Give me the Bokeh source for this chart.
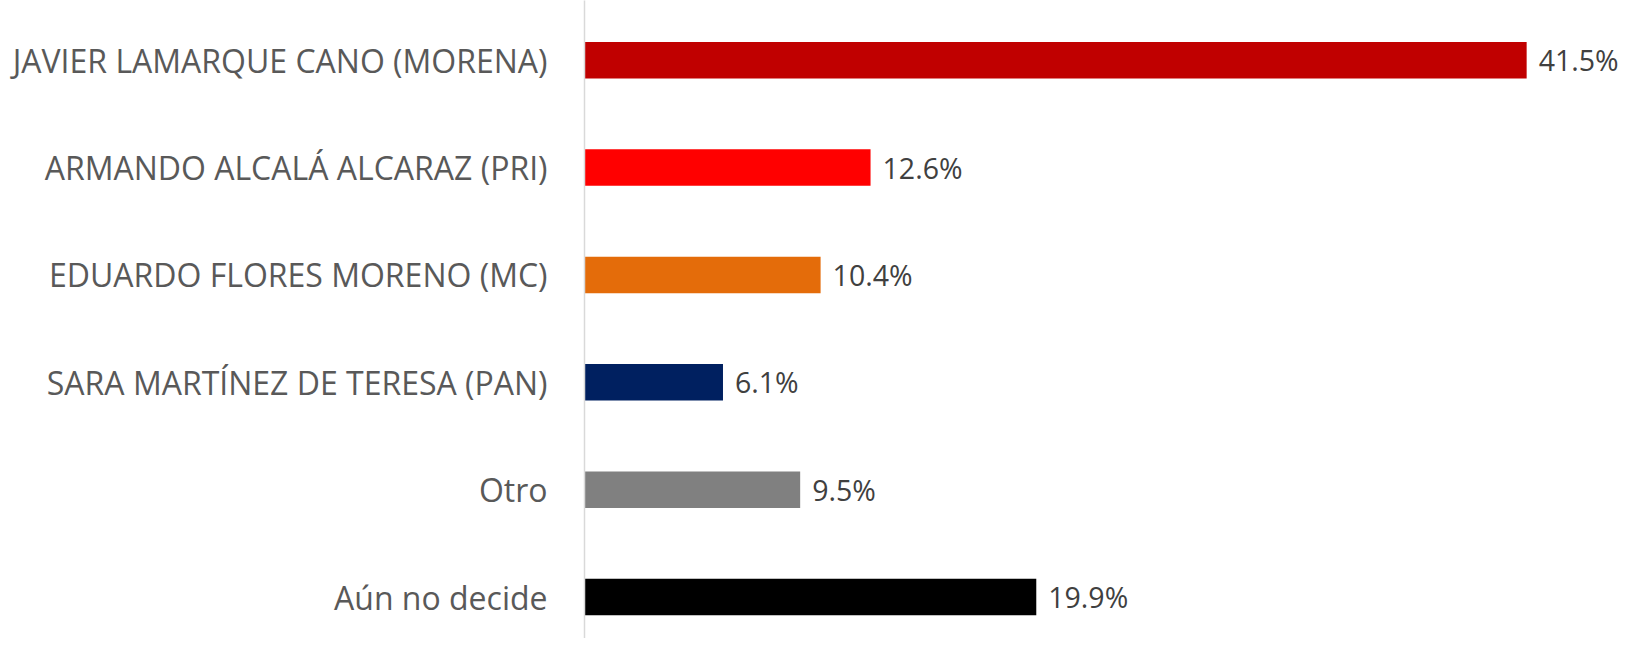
from bokeh.plotting import figure
from bokeh.models import Range1d, ColumnDataSource, FixedTicker
from bokeh.embed import file_html
from bokeh.resources import INLINE
from bokeh.core.properties import value

categories = [
    "JAVIER LAMARQUE CANO (MORENA)",
    "ARMANDO ALCALÁ ALCARAZ (PRI)",
    "EDUARDO FLORES MORENO (MC)",
    "SARA MARTÍNEZ DE TERESA (PAN)",
    "Otro",
    "Aún no decide",
]
values = [41.5, 12.6, 10.4, 6.1, 9.5, 19.9]
colors = ["#C00000", "#FF0000", "#E46C0A", "#002060", "#808080", "#000000"]
labels = [f"{v:.1f}%" for v in values]

n = len(categories)
ypos = [n - 1 - i for i in range(n)]

src = ColumnDataSource(dict(y=ypos, v=values, c=colors, lab=labels))

FONT = "Open Sans"

p = figure(width=1624, height=638, output_backend="svg", toolbar_location=None,
           x_range=Range1d(0, 45.81), y_range=Range1d(-0.386, 5.556),
           min_border_left=584, min_border_right=0, min_border_top=0, min_border_bottom=0)
p.hbar(y="y", left=0, right="v", height=0.34, color="c", line_color=None, source=src)
p.text(x="v", y="y", text="lab", x_offset=12, text_baseline="middle", text_align="left",
       text_font=value(FONT), text_font_size="28.5px", text_color="#404040", source=src)

p.xaxis.visible = False
p.xgrid.visible = False
p.ygrid.visible = False
p.outline_line_color = None

ya = p.yaxis[0]
ya.ticker = FixedTicker(ticks=ypos)
ya.major_label_overrides = {y: c for y, c in zip(ypos, categories)}
ya.major_tick_line_color = None
ya.minor_tick_line_color = None
ya.axis_line_color = "#D9D9D9"
ya.axis_line_width = 1.5
ya.major_label_standoff = 31
ya.major_label_text_font = FONT
ya.major_label_text_font_size = "32px"
ya.major_label_text_color = "#595959"

open("out.html", "w").write(file_html(p, INLINE))
